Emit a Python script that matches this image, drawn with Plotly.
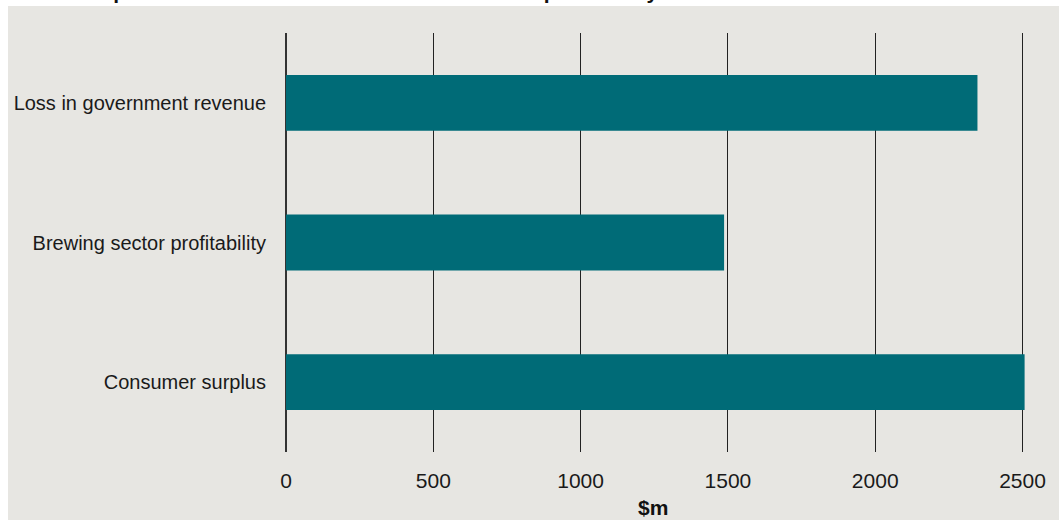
import plotly.graph_objects as go

categories = ["Loss in government revenue", "Brewing sector profitability", "Consumer surplus"]
values = [2347, 1487, 2507]
tick_vals = [0, 500, 1000, 1500, 2000, 2500]
axis_title = "$m"
title_text = "The potential costs of a tax increase on brewer profitability and revenue"

W, H = 1059, 520
ML, MR, MT, MB = 286, 7, 33, 68
PW, PH = W - ML - MR, H - MT - MB

def px(x):
    return (x - ML) / PW

def py(y):
    return 1 - (y - MT) / PH

BG = "#E7E6E2"
BAR = "#006B77"
FONT = "Liberation Sans, Arial, sans-serif"

fig = go.Figure(go.Bar(
    x=values, y=categories, orientation="h",
    marker=dict(color=BAR, line=dict(width=0)),
    width=0.4,
))

fig.update_layout(
    width=W, height=H,
    margin=dict(l=ML, r=MR, t=MT, b=MB, pad=0),
    paper_bgcolor="white",
    plot_bgcolor="rgba(0,0,0,0)",
    showlegend=False,
    font=dict(family=FONT, color="#1a1a1a"),
    bargap=0.6,
    shapes=[dict(type="rect", xref="paper", yref="paper",
                 x0=px(8), x1=px(W + 2), y0=py(H + 2), y1=py(6),
                 fillcolor=BG, line=dict(width=0), layer="below")],
    annotations=[
        dict(text=f"<b>{axis_title}</b>", xref="paper", yref="paper",
             x=px(653), y=py(507), xanchor="center", yanchor="middle",
             showarrow=False, font=dict(size=21, family=FONT, color="#111")),
        dict(text=f"<b>{title_text}</b>", xref="paper", yref="paper",
             x=px(68), y=py(5), xanchor="left", yanchor="bottom",
             showarrow=False, font=dict(size=21, family=FONT, color="#111")),
    ],
)

fig.update_xaxes(
    range=[0, 2600], tickvals=tick_vals,
    showgrid=True, gridcolor="#222", gridwidth=1,
    zeroline=True, zerolinecolor="#333", zerolinewidth=1.5,
    showline=False, ticks="", ticklabelstandoff=14,
    tickfont=dict(size=21, family=FONT, color="#1a1a1a"),
)
fig.update_yaxes(
    categoryorder="array", categoryarray=categories[::-1],
    range=[-0.5, 2.5],
    showgrid=False, zeroline=False, showline=False, ticks="",
    ticklabelstandoff=19,
    tickfont=dict(size=20, family=FONT, color="#1a1a1a"),
)

fig.write_html("out.html")
